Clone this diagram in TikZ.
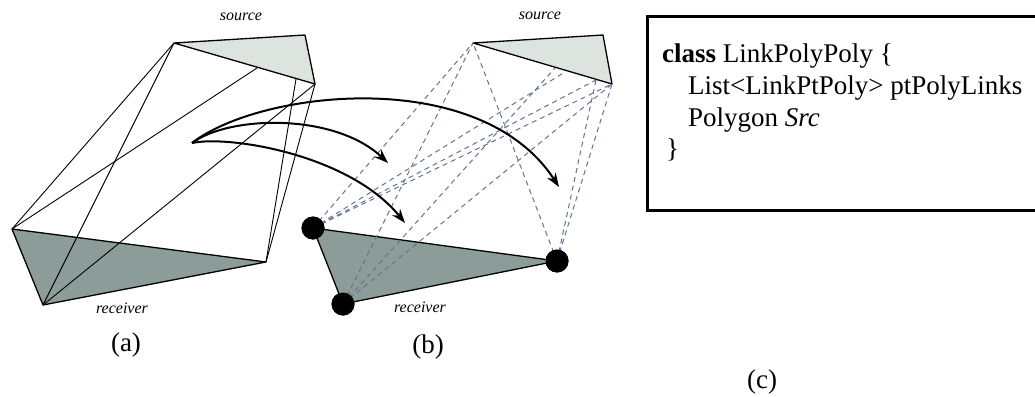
\documentclass[tikz,border=0pt]{standalone}
\usepackage{fontspec}
\setmainfont{Liberation Serif}
\usetikzlibrary{arrows.meta,positioning}
\definecolor{srcfill}{HTML}{DDE3DF}
\definecolor{rcvfill}{HTML}{8C9C99}
\definecolor{raygray}{HTML}{64748F}
\tikzset{
  >=Stealth,
  poly/.style={draw, line width=1.3pt, line join=round},
  ray/.style={draw, line width=0.9pt},
  dray/.style={draw=raygray, line width=1pt, dash pattern=on 5pt off 4pt},
  vdot/.style={circle, fill=black, inner sep=0pt, minimum size=23pt},
}

\begin{document}
\begin{tikzpicture}[
  x=1pt, y=-1pt,
  link/.style={-{Stealth[length=14pt,width=10pt]}, line width=2pt},
  tag/.style={font=\fontsize{16}{19}\selectfont\itshape, inner sep=0pt},
  caption/.style={font=\fontsize{27}{32}\selectfont, inner sep=0pt},
  codeline/.style={font=\fontsize{27}{32}\selectfont, anchor=base west, inner sep=0pt}
]
\useasboundingbox (0,0) rectangle (1035,396);

% (a) all rays
\coordinate (sa1) at (174,43);
\coordinate (sa2) at (305,35);
\coordinate (sa3) at (315,84);
\coordinate (ea1) at (257,68);
\coordinate (ea2) at (296,79);
\coordinate (ra1) at (12,229);
\coordinate (ra2) at (266,262);
\coordinate (ra3) at (43,305);
\draw[poly, fill=srcfill] (sa1) -- (sa2) -- (sa3) -- cycle;
\draw[poly, fill=rcvfill] (ra1) -- (ra2) -- (ra3) -- cycle;
\foreach \r/\s in {ra1/sa1, ra1/ea1, ra3/sa1, ra3/sa3, ra2/sa3, ra2/ea2}
  \draw[ray] (\r) -- (\s);
\node[tag] (srcA) at (241,17) {source};
\node[tag] (rcvA) at (122,308) {receiver};
\node[caption] (capA) at (126,345) {(a)};

% (b) point to polygon links
\coordinate (sb1) at (473,43);
\coordinate (sb2) at (603,35);
\coordinate (sb3) at (612,84);
\coordinate (eb1) at (555,68);
\coordinate (eb2) at (565,72);
\coordinate (eb3) at (596,80);
\node[vdot] (rb1) at (313,228) {};
\node[vdot] (rb2) at (557,261) {};
\node[vdot] (rb3) at (343,304) {};
\draw[poly, fill=srcfill] (sb1) -- (sb2) -- (sb3) -- cycle;
\draw[poly, fill=rcvfill] (rb1.center) -- (rb2.center) -- (rb3.center) -- cycle;
\foreach \r/\s in {rb1/sb1, rb1/eb2, rb1/eb3, rb1/sb3,
                   rb3/sb1, rb3/eb1, rb3/sb3,
                   rb2/sb1, rb2/eb3, rb2/sb3}
  \draw[dray] (\r.center) -- (\s);
\foreach \r in {rb1, rb2, rb3}
  \node[vdot] at (\r) {};
\node[tag] (srcB) at (540,16) {source};
\node[tag] (rcvB) at (420,307) {receiver};
\node[caption] (capB) at (428,347) {(b)};

% links from (a) to (b)
\coordinate (hub) at (192,143);
\coordinate (tipA) at (559,187);
\coordinate (tipB) at (388,163);
\coordinate (tipC) at (405,223);
\draw[link] (hub) .. controls (260,90) and (480,65) .. (tipA);
\draw[link] (hub) .. controls (230,115) and (335,113) .. (tipB);
\draw[link] (hub) .. controls (230,135) and (350,155) .. (tipC);

% (c) class
\node[draw, line width=2.6pt, anchor=north west, inner sep=0pt,
      minimum width=400pt, minimum height=194pt] (box) at (646,15) {};
\node[codeline] (l1) at (662,63) {\textbf{class} LinkPolyPoly \{};
\node[codeline] (l2) at (688,94) {List<LinkPtPoly> ptPolyLinks};
\node[codeline] (l3) at (688,126) {Polygon \textit{Src}};
\node[codeline] (l4) at (666,157) {\}};
\node[caption] (capC) at (762,382) {(c)};
\end{tikzpicture}
\end{document}
